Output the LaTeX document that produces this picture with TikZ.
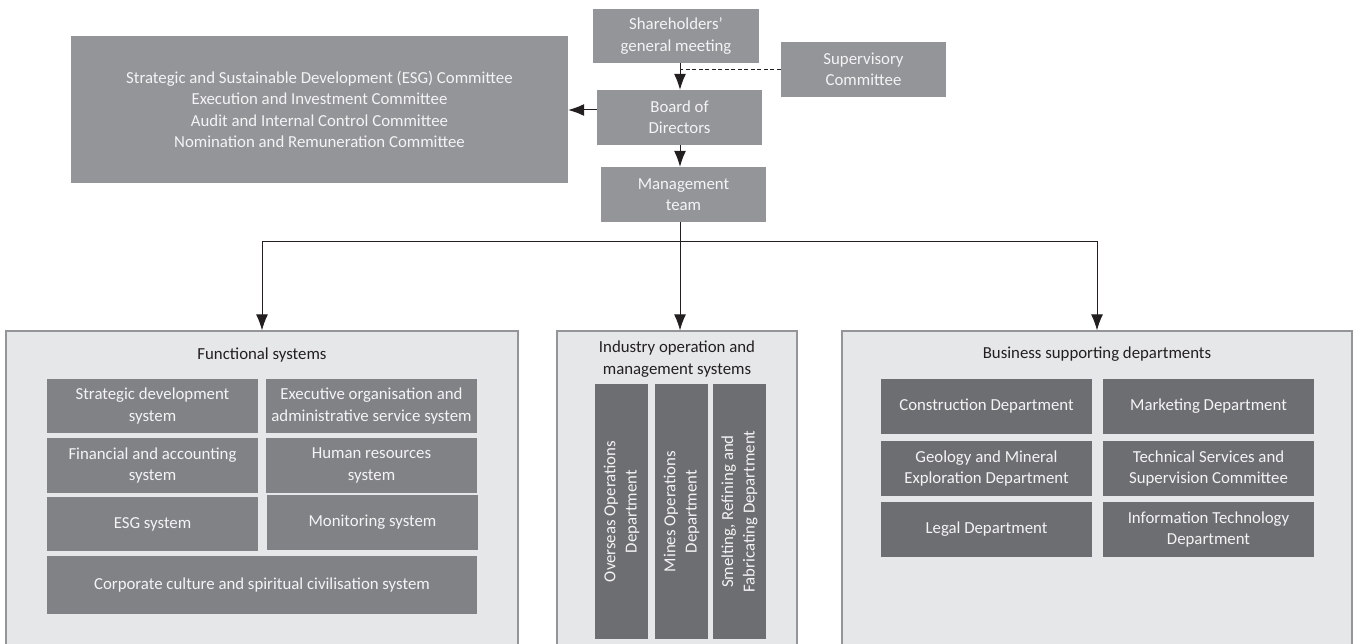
\documentclass[tikz,border=0pt]{standalone}
\usepackage{fontspec}
\setmainfont{Carlito}
\usetikzlibrary{arrows.meta}
\definecolor{govgrey}{HTML}{939598}
\definecolor{funcgrey}{HTML}{808285}
\definecolor{deptgrey}{HTML}{6D6E71}
\definecolor{panelgrey}{HTML}{E6E7E8}
\definecolor{inkgrey}{HTML}{231F20}
\definecolor{paper}{HTML}{F4F4F5}
\newcommand{\orgfont}{\fontsize{16.8}{21.3}\selectfont}
\tikzset{>={Latex[length=16pt,width=12pt]}}
\tikzset{%
  govbox/.style={fill=govgrey, text=paper, align=center, inner sep=0pt, font=\orgfont},
  funcbox/.style={fill=funcgrey, text=paper, align=center, inner sep=0pt, font=\orgfont,
    minimum width=211, minimum height=55},
  deptbox/.style={fill=deptgrey, text=paper, align=center, inner sep=0pt, font=\orgfont,
    minimum width=211, minimum height=55},
  opscol/.style={fill=deptgrey, text=paper, align=center, inner sep=0pt, font=\orgfont,
    rotate=90, minimum width=255, minimum height=53},
  panel/.style={fill=panelgrey, draw=govgrey, line width=1.3pt, minimum height=318},
  paneltitle/.style={text=inkgrey, align=center, inner sep=0pt, font=\orgfont},
  link/.style={draw=inkgrey, line width=1pt}
}
\begin{document}
\begin{tikzpicture}[x=1pt, y=-1pt]
  \useasboundingbox (0,0) rectangle (1359,644);

  % governance boxes at the top
  \node[govbox, minimum width=166, minimum height=54] (share) at (676,36) {Shareholders’\\general meeting};
  \node[govbox, minimum width=165, minimum height=55] (super) at (863.5,69.5) {Supervisory\\Committee};
  \node[govbox, minimum width=165, minimum height=55] (board) at (679.5,117.5) {Board of\\Directors};
  \node[govbox, minimum width=165, minimum height=55] (mgmt) at (683.5,194.5) {Management\\team};
  \node[govbox, minimum width=497, minimum height=147] (cttee) at (319.5,109.5)
    {Strategic and Sustainable Development (ESG) Committee\\
     Execution and Investment Committee\\
     Audit and Internal Control Committee\\
     Nomination and Remuneration Committee};

  % the three panels
  \node[panel, minimum width=512] (func) at (262,490) {};
  \node[panel, minimum width=240] (ops) at (677,490) {};
  \node[panel, minimum width=510] (supp) at (1097,490) {};
  \node[paneltitle] (functitle) at (262,355) {Functional systems};
  \node[paneltitle] (opstitle) at (677,359) {Industry operation and\\management systems};
  \node[paneltitle] (supptitle) at (1097,354) {Business supporting departments};

  % functional systems
  \node[funcbox, minimum height=54] (sdev) at (152.5,406) {Strategic development\\system};
  \node[funcbox, minimum height=54] (exec) at (371.5,406) {Executive organisation and\\administrative service system};
  \node[funcbox] (fin) at (152.5,465.5) {Financial and accounting\\system};
  \node[funcbox] (hr) at (371.5,465.5) {Human resources\\system};
  \node[funcbox, minimum height=54] (esg) at (152.5,524) {ESG system};
  \node[funcbox] (mon) at (372.5,522.5) {Monitoring system};
  \node[funcbox, minimum width=430, minimum height=58] (cult) at (262,585) {Corporate culture and spiritual civilisation system};

  % operation departments, set upright
  \node[opscol] (overseas) at (621.5,511.5) {Overseas Operations\\Department};
  \node[opscol] (mines) at (681.5,511.5) {Mines Operations\\Department};
  \node[opscol] (smelt) at (739.5,511.5) {Smelting, Refining and\\Fabricating Department};

  % supporting departments
  \node[deptbox] (cons) at (986.5,406.5) {Construction Department};
  \node[deptbox] (mkt) at (1208.5,406.5) {Marketing Department};
  \node[deptbox] (geo) at (986.5,468.5) {Geology and Mineral\\Exploration Department};
  \node[deptbox] (tech) at (1208.5,468.5) {Technical Services and\\Supervision Committee};
  \node[deptbox] (legal) at (986.5,529.5) {Legal Department};
  \node[deptbox] (it) at (1208.5,529.5) {Information Technology\\Department};

  % connectors
  \coordinate (hub) at (680,242);
  \draw[link, ->] (share.south -| hub) -- (board.north -| hub);
  \draw[link, dashed, dash pattern=on 4pt off 2.5pt] (super.west) -- (super.west -| hub);
  \draw[link, ->] ([yshift=7.5pt]board.west) -- ([yshift=7.5pt]board.west -| cttee.east);
  \draw[link, ->] (board.south -| hub) -- (mgmt.north -| hub);
  \draw[link] (mgmt.south -| hub) -- (hub);
  \draw[link, ->] (hub) -| (func.north);
  \draw[link, ->] (hub) -- (ops.north -| hub);
  \draw[link, ->] (hub) -| (supp.north);
\end{tikzpicture}
\end{document}
